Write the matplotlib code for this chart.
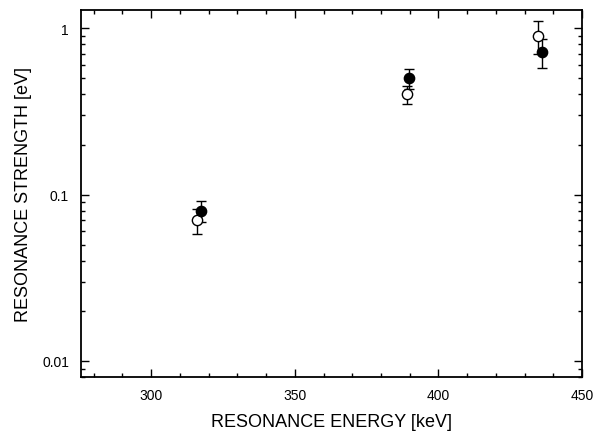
import matplotlib
matplotlib.use("Agg")
import matplotlib.pyplot as plt
from matplotlib.ticker import FixedLocator, LogLocator, NullFormatter

plt.rcParams['font.family'] = ['Liberation Sans', 'DejaVu Sans']

# open circles
open_e = [315.8, 389.0, 434.5]
open_s = [0.070, 0.40, 0.90]
open_err = [0.012, 0.05, 0.20]

# filled circles
fill_e = [317.2, 389.9, 435.9]
fill_s = [0.080, 0.50, 0.72]
fill_err = [0.012, 0.07, 0.14]

fig = plt.figure(figsize=(5.94, 4.35), dpi=100)
ax = fig.add_axes([0.136, 0.131, 0.844, 0.844])

ax.errorbar(open_e, open_s, yerr=open_err, fmt='o', mfc='white', mec='black',
            ecolor='black', ms=7.4, mew=1.0, elinewidth=1.0, capsize=3.3, capthick=1.0)
ax.errorbar(fill_e, fill_s, yerr=fill_err, fmt='o', mfc='black', mec='black',
            ecolor='black', ms=7.4, mew=1.0, elinewidth=1.0, capsize=3.3, capthick=1.0)

ax.set_yscale('log')
ax.set_xlim(275.5, 450)
ax.set_ylim(0.008, 1.29)

ax.set_xticks([300, 350, 400, 450])
ax.xaxis.set_minor_locator(FixedLocator(range(280, 450, 10)))
ax.set_yticks([0.01, 0.1, 1])
ax.set_yticklabels(['0.01', '0.1', '1'])
ax.yaxis.set_minor_locator(LogLocator(base=10, subs=range(2, 10)))
ax.yaxis.set_minor_formatter(NullFormatter())

ax.tick_params(which='both', direction='in', top=True, right=True, width=1.0,
               labelsize=10)
ax.tick_params(which='major', length=6)
ax.tick_params(which='minor', length=3)
ax.tick_params(axis='x', pad=8)
ax.tick_params(axis='y', pad=8.5)
for s in ax.spines.values():
    s.set_linewidth(1.3)

ax.set_xlabel('RESONANCE ENERGY [keV]', fontsize=13, labelpad=8)
ax.set_ylabel('RESONANCE STRENGTH [eV]', fontsize=13, labelpad=7)

fig.savefig('out.png', dpi=100)
